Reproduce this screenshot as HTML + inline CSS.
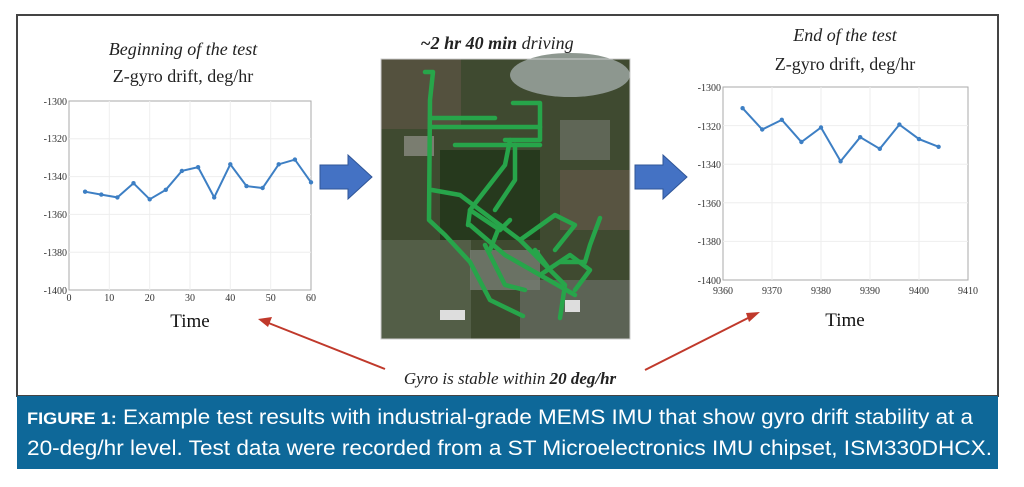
<!DOCTYPE html>
<html><head><meta charset="utf-8"><style>
html,body{margin:0;padding:0;background:#fff;}
svg{display:block;}
</style></head><body>
<svg width="1024" height="487" viewBox="0 0 1024 487" xmlns="http://www.w3.org/2000/svg">
<rect width="1024" height="487" fill="#fff"/>
<rect x="17" y="15" width="981" height="381" fill="#fff" stroke="#444" stroke-width="2"/>
<rect x="17" y="396" width="981" height="73" fill="#0e6899"/>
<g font-family="Liberation Sans, sans-serif" fill="#fff" font-size="21">
<text x="27" y="424" textLength="946" lengthAdjust="spacingAndGlyphs"><tspan font-weight="bold" font-size="17">FIGURE 1:</tspan> Example test results with industrial-grade MEMS IMU that show gyro drift stability at a</text>
<text x="27" y="455" textLength="965" lengthAdjust="spacingAndGlyphs">20-deg/hr level. Test data were recorded from a ST Microelectronics IMU chipset, ISM330DHCX.</text>
</g>

<!-- Left chart -->
<g font-family="Liberation Serif, serif">
<text x="183" y="55" font-size="18" font-style="italic" text-anchor="middle" fill="#222">Beginning of the test</text>
<text x="183" y="82" font-size="18" text-anchor="middle" fill="#222">Z-gyro drift, deg/hr</text>
<rect x="69" y="101" width="242" height="189" fill="#fff" stroke="#aaa" stroke-width="1"/>
<g stroke="#eee" stroke-width="1">
<line x1="109.3" y1="101" x2="109.3" y2="290"/><line x1="149.7" y1="101" x2="149.7" y2="290"/><line x1="190" y1="101" x2="190" y2="290"/><line x1="230.3" y1="101" x2="230.3" y2="290"/><line x1="270.7" y1="101" x2="270.7" y2="290"/>
<line x1="69" y1="138.8" x2="311" y2="138.8"/><line x1="69" y1="176.6" x2="311" y2="176.6"/><line x1="69" y1="214.4" x2="311" y2="214.4"/><line x1="69" y1="252.2" x2="311" y2="252.2"/>
</g>
<g font-size="10" fill="#333" text-anchor="end">
<text x="67" y="105">-1300</text><text x="67" y="142">-1320</text><text x="67" y="180">-1340</text><text x="67" y="218">-1360</text><text x="67" y="256">-1380</text><text x="67" y="294">-1400</text>
</g>
<g font-size="10" fill="#333" text-anchor="middle">
<text x="69" y="301">0</text><text x="109.3" y="301">10</text><text x="149.7" y="301">20</text><text x="190" y="301">30</text><text x="230.3" y="301">40</text><text x="270.7" y="301">50</text><text x="311" y="301">60</text>
</g>
<text x="190" y="327" font-size="19" text-anchor="middle" fill="#111">Time</text>
<polyline fill="none" stroke="#3d7fc4" stroke-width="2" points="85.1,191.7 101.3,194.6 117.4,197.4 133.5,183.2 149.7,199.3 165.8,189.8 181.9,170.9 198.1,167.2 214.2,197.4 230.3,164.3 246.5,186.1 262.6,188 278.7,164.3 294.9,159.6 311,182.3"/>
<g fill="#3d7fc4"><circle cx="85.1" cy="191.7" r="2.2"/><circle cx="101.3" cy="194.6" r="2.2"/><circle cx="117.4" cy="197.4" r="2.2"/><circle cx="133.5" cy="183.2" r="2.2"/><circle cx="149.7" cy="199.3" r="2.2"/><circle cx="165.8" cy="189.8" r="2.2"/><circle cx="181.9" cy="170.9" r="2.2"/><circle cx="198.1" cy="167.2" r="2.2"/><circle cx="214.2" cy="197.4" r="2.2"/><circle cx="230.3" cy="164.3" r="2.2"/><circle cx="246.5" cy="186.1" r="2.2"/><circle cx="262.6" cy="188" r="2.2"/><circle cx="278.7" cy="164.3" r="2.2"/><circle cx="294.9" cy="159.6" r="2.2"/><circle cx="311" cy="182.3" r="2.2"/></g>
</g>

<!-- Right chart -->
<g font-family="Liberation Serif, serif">
<text x="845" y="41" font-size="18" font-style="italic" text-anchor="middle" fill="#222">End of the test</text>
<text x="845" y="70" font-size="18" text-anchor="middle" fill="#222">Z-gyro drift, deg/hr</text>
<rect x="723" y="87" width="245" height="193" fill="#fff" stroke="#aaa" stroke-width="1"/>
<g stroke="#eee" stroke-width="1">
<line x1="772" y1="87" x2="772" y2="280"/><line x1="821" y1="87" x2="821" y2="280"/><line x1="870" y1="87" x2="870" y2="280"/><line x1="919" y1="87" x2="919" y2="280"/>
<line x1="723" y1="125.6" x2="968" y2="125.6"/><line x1="723" y1="164.2" x2="968" y2="164.2"/><line x1="723" y1="202.8" x2="968" y2="202.8"/><line x1="723" y1="241.4" x2="968" y2="241.4"/>
</g>
<g font-size="10" fill="#333" text-anchor="end">
<text x="721" y="91">-1300</text><text x="721" y="130">-1320</text><text x="721" y="168">-1340</text><text x="721" y="207">-1360</text><text x="721" y="245">-1380</text><text x="721" y="284">-1400</text>
</g>
<g font-size="10" fill="#333" text-anchor="middle">
<text x="723" y="294">9360</text><text x="772" y="294">9370</text><text x="821" y="294">9380</text><text x="870" y="294">9390</text><text x="919" y="294">9400</text><text x="968" y="294">9410</text>
</g>
<text x="845" y="326" font-size="19" text-anchor="middle" fill="#111">Time</text>
<polyline fill="none" stroke="#3d7fc4" stroke-width="2" points="742.6,108.2 762.2,129.5 781.8,119.8 801.4,142 821,127.5 840.6,161.3 860.2,137.2 879.8,148.8 899.4,124.6 919,139.1 938.6,146.8"/>
<g fill="#3d7fc4"><circle cx="742.6" cy="108.2" r="2.2"/><circle cx="762.2" cy="129.5" r="2.2"/><circle cx="781.8" cy="119.8" r="2.2"/><circle cx="801.4" cy="142" r="2.2"/><circle cx="821" cy="127.5" r="2.2"/><circle cx="840.6" cy="161.3" r="2.2"/><circle cx="860.2" cy="137.2" r="2.2"/><circle cx="879.8" cy="148.8" r="2.2"/><circle cx="899.4" cy="124.6" r="2.2"/><circle cx="919" cy="139.1" r="2.2"/><circle cx="938.6" cy="146.8" r="2.2"/></g>
</g>

<!-- Blue arrows -->
<polygon points="320,165 348,165 348,155 372,177 348,199 348,189 320,189" fill="#4472c4" stroke="#2f5597" stroke-width="1"/>
<polygon points="635,165 663,165 663,155 687,177 663,199 663,189 635,189" fill="#4472c4" stroke="#2f5597" stroke-width="1"/>

<!-- Map -->
<text x="497" y="49" font-family="Liberation Serif, serif" font-size="18" font-style="italic" text-anchor="middle" fill="#222"><tspan font-weight="bold">~2 hr 40 min</tspan> driving</text>
<g>
<rect x="381" y="59" width="249" height="280" fill="#3f4a30"/>
<ellipse cx="570" cy="75" rx="60" ry="22" fill="#8d978f"/>
<rect x="381" y="59" width="80" height="70" fill="#5a5242" opacity="0.8"/>
<rect x="440" y="150" width="100" height="90" fill="#26391d"/>
<rect x="560" y="170" width="70" height="60" fill="#5f5646" opacity="0.8"/>
<rect x="381" y="240" width="90" height="99" fill="#55604a" opacity="0.9"/>
<rect x="520" y="280" width="110" height="59" fill="#5f665a" opacity="0.9"/>
<rect x="470" y="250" width="70" height="40" fill="#767c72" opacity="0.8"/>
<rect x="440" y="310" width="25" height="10" fill="#ddd"/>
<rect x="565" y="300" width="15" height="12" fill="#ddd"/>
<rect x="560" y="120" width="50" height="40" fill="#6e7266" opacity="0.7"/>
<rect x="404" y="136" width="30" height="20" fill="#7a7d70"/>
<g fill="none" stroke="#27a54a" stroke-width="4.5" stroke-linejoin="round" stroke-linecap="round">
<polyline points="425,72 433,72 430,100 429,220 445,235 470,262 490,300 523,316"/>
<polyline points="430,118 495,118"/><polyline points="430,127 540,127"/><polyline points="455,145 540,145"/>
<polyline points="513,103 540,103 540,140 505,140"/>
<polyline points="510,140 505,165 470,210 468,225"/>
<polyline points="515,145 515,180 495,210"/>
<polyline points="432,190 460,195 520,240 565,285 560,318"/>
<polyline points="470,225 505,255 540,275 575,295"/>
<polyline points="470,210 500,230 510,220"/>
<polyline points="520,240 555,215 575,225 555,250"/>
<polyline points="540,275 570,255 590,270 575,290"/>
<polyline points="600,218 590,245 585,262 560,262"/>
<polyline points="485,245 505,285 525,290"/>
<polyline points="500,225 490,250"/>
<polyline points="535,250 550,270"/>
</g>
<rect x="381" y="59" width="249" height="280" fill="none" stroke="#ccc" stroke-width="1"/>
</g>

<!-- red arrows -->
<g stroke="#c0392b" stroke-width="2" fill="#c0392b">
<line x1="385" y1="369" x2="266" y2="322"/>
<polygon points="258,319 272,317 268,327" stroke="none"/>
<line x1="645" y1="370" x2="752" y2="316"/>
<polygon points="760,312 749,322 746,313" stroke="none"/>
</g>
<text x="510" y="384" font-family="Liberation Serif, serif" font-size="17" font-style="italic" text-anchor="middle" fill="#222">Gyro is stable within <tspan font-weight="bold">20 deg/hr</tspan></text>
</svg>
</body></html>
